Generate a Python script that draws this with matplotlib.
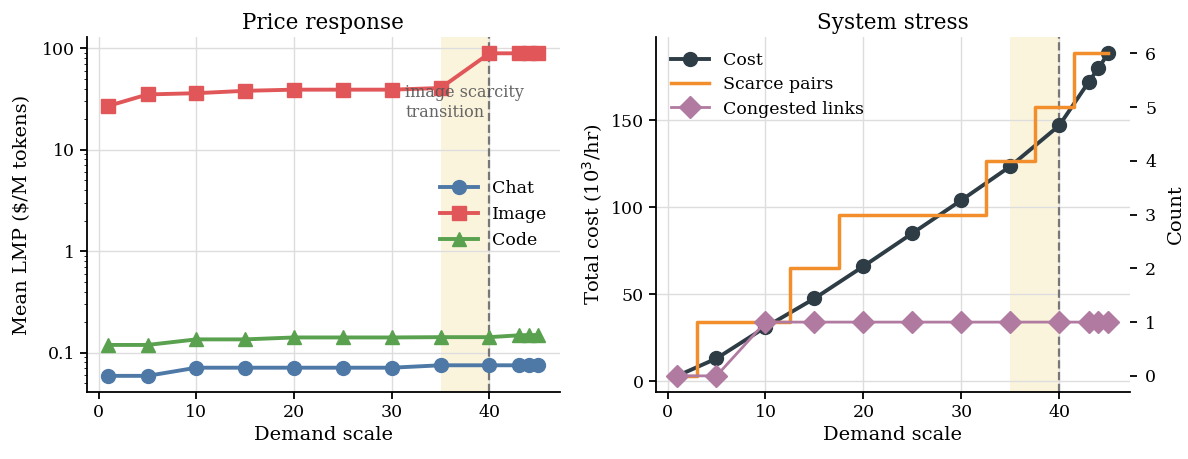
import matplotlib
matplotlib.use("Agg")
import matplotlib.pyplot as plt

plt.rcParams['font.family'] = 'DejaVu Serif'
plt.rcParams['axes.linewidth'] = 1.3
plt.rcParams['xtick.major.width'] = 1.3
plt.rcParams['ytick.major.width'] = 1.3
plt.rcParams['xtick.major.size'] = 5
plt.rcParams['ytick.major.size'] = 5

# demand scale points
scale = [1, 5, 10, 15, 20, 25, 30, 35, 40, 43, 44, 45]

# mean LMP per class ($/M tokens)
chat_lmp = [0.059, 0.059, 0.071, 0.071, 0.071, 0.071, 0.071, 0.075, 0.075, 0.075, 0.075, 0.075]
image_lmp = [27, 35, 36, 38, 39, 39, 39, 40.5, 89, 89, 89, 89]
code_lmp = [0.119, 0.119, 0.135, 0.135, 0.141, 0.141, 0.141, 0.142, 0.142, 0.148, 0.149, 0.149]

# system stress
total_cost = [3, 13, 31, 47.5, 66, 85, 104, 123.5, 147, 172, 180, 188.5]
scarce_pairs = [0, 1, 1, 2, 3, 3, 3, 4, 5, 6, 6, 6]
congested = [0, 0, 1, 1, 1, 1, 1, 1, 1, 1, 1, 1]

shade = (35, 40)
threshold = 40

c_chat, c_img, c_code = '#4e79a7', '#e15759', '#59a14f'
c_cost, c_scarce, c_cong = '#2e3d45', '#f28e2b', '#b07aa1'

fig = plt.figure(figsize=(11.88, 4.59), dpi=100)
ax1 = fig.add_axes([0.0732, 0.146, 0.398, 0.773])
ax2 = fig.add_axes([0.552, 0.146, 0.399, 0.773])

# --- left: price response
ax1.axvspan(*shade, color='#f7e8b5', alpha=0.45, lw=0, zorder=0)
ax1.axvline(threshold, color='#777777', ls='--', lw=1.6, zorder=1)
ax1.plot(scale, chat_lmp, '-o', color=c_chat, lw=2.8, ms=10, label='Chat', zorder=3)
ax1.plot(scale, image_lmp, '-s', color=c_img, lw=2.8, ms=10, label='Image', zorder=3)
ax1.plot(scale, code_lmp, '-^', color=c_code, lw=2.8, ms=10, label='Code', zorder=3)
ax1.set_yscale('log')
ax1.set_yticks([0.1, 1, 10, 100])
ax1.set_yticklabels(['0.1', '1', '10', '100'])
ax1.set_xticks([0, 10, 20, 30, 40])
ax1.text(31.4, 29, 'image scarcity\ntransition', color='#555555', fontsize=11.5,
         va='center', ha='left', alpha=0.9, zorder=4)
ax1.set_title('Price response', fontsize=15.5)
ax1.set_xlabel('Demand scale', fontsize=14)
ax1.set_ylabel('Mean LMP ($/M tokens)', fontsize=14, labelpad=8)
ax1.grid(True, which='major', color='#dddddd', lw=1)
ax1.set_axisbelow(True)
ax1.legend(loc='center right', bbox_to_anchor=(1.0, 0.5), frameon=False, fontsize=12.5,
           handlelength=2.2, borderpad=0.2, labelspacing=0.5)
for s in ['top', 'right']:
    ax1.spines[s].set_visible(False)
ax1.tick_params(labelsize=12.5)

# --- right: system stress
ax2.axvspan(*shade, color='#f7e8b5', alpha=0.45, lw=0, zorder=0)
ax2.axvline(threshold, color='#777777', ls='--', lw=1.6, zorder=1)
l1, = ax2.plot(scale, total_cost, '-o', color=c_cost, lw=2.8, ms=10, label='Cost', zorder=3)
ax2.set_xticks([0, 10, 20, 30, 40])
ax2.set_yticks([0, 50, 100, 150])
ax2.set_title('System stress', fontsize=15.5)
ax2.set_xlabel('Demand scale', fontsize=14)
ax2.set_ylabel('Total cost (10$^3$/hr)', fontsize=14)
ax2.grid(True, color='#dddddd', lw=1)
ax2.set_axisbelow(True)
ax2.tick_params(labelsize=12.5)
for s in ['top', 'right']:
    ax2.spines[s].set_visible(False)

tw = ax2.twinx()
l2, = tw.step(scale, scarce_pairs, where='mid', color=c_scarce, lw=2.5, label='Scarce pairs')
l3, = tw.plot(scale, congested, '-D', color=c_cong, lw=2, ms=11, label='Congested links')
tw.set_ylabel('Count', fontsize=14, labelpad=8)
tw.set_yticks(range(7))
tw.tick_params(labelsize=12.5, pad=6)
for s in ['top', 'right', 'left', 'bottom']:
    tw.spines[s].set_visible(False)

ax2.legend(handles=[l1, l2, l3], loc='upper left', frameon=False, fontsize=12.5,
           handlelength=2.2, borderpad=0.35, labelspacing=0.42)

fig.savefig('out.png', dpi=100)
